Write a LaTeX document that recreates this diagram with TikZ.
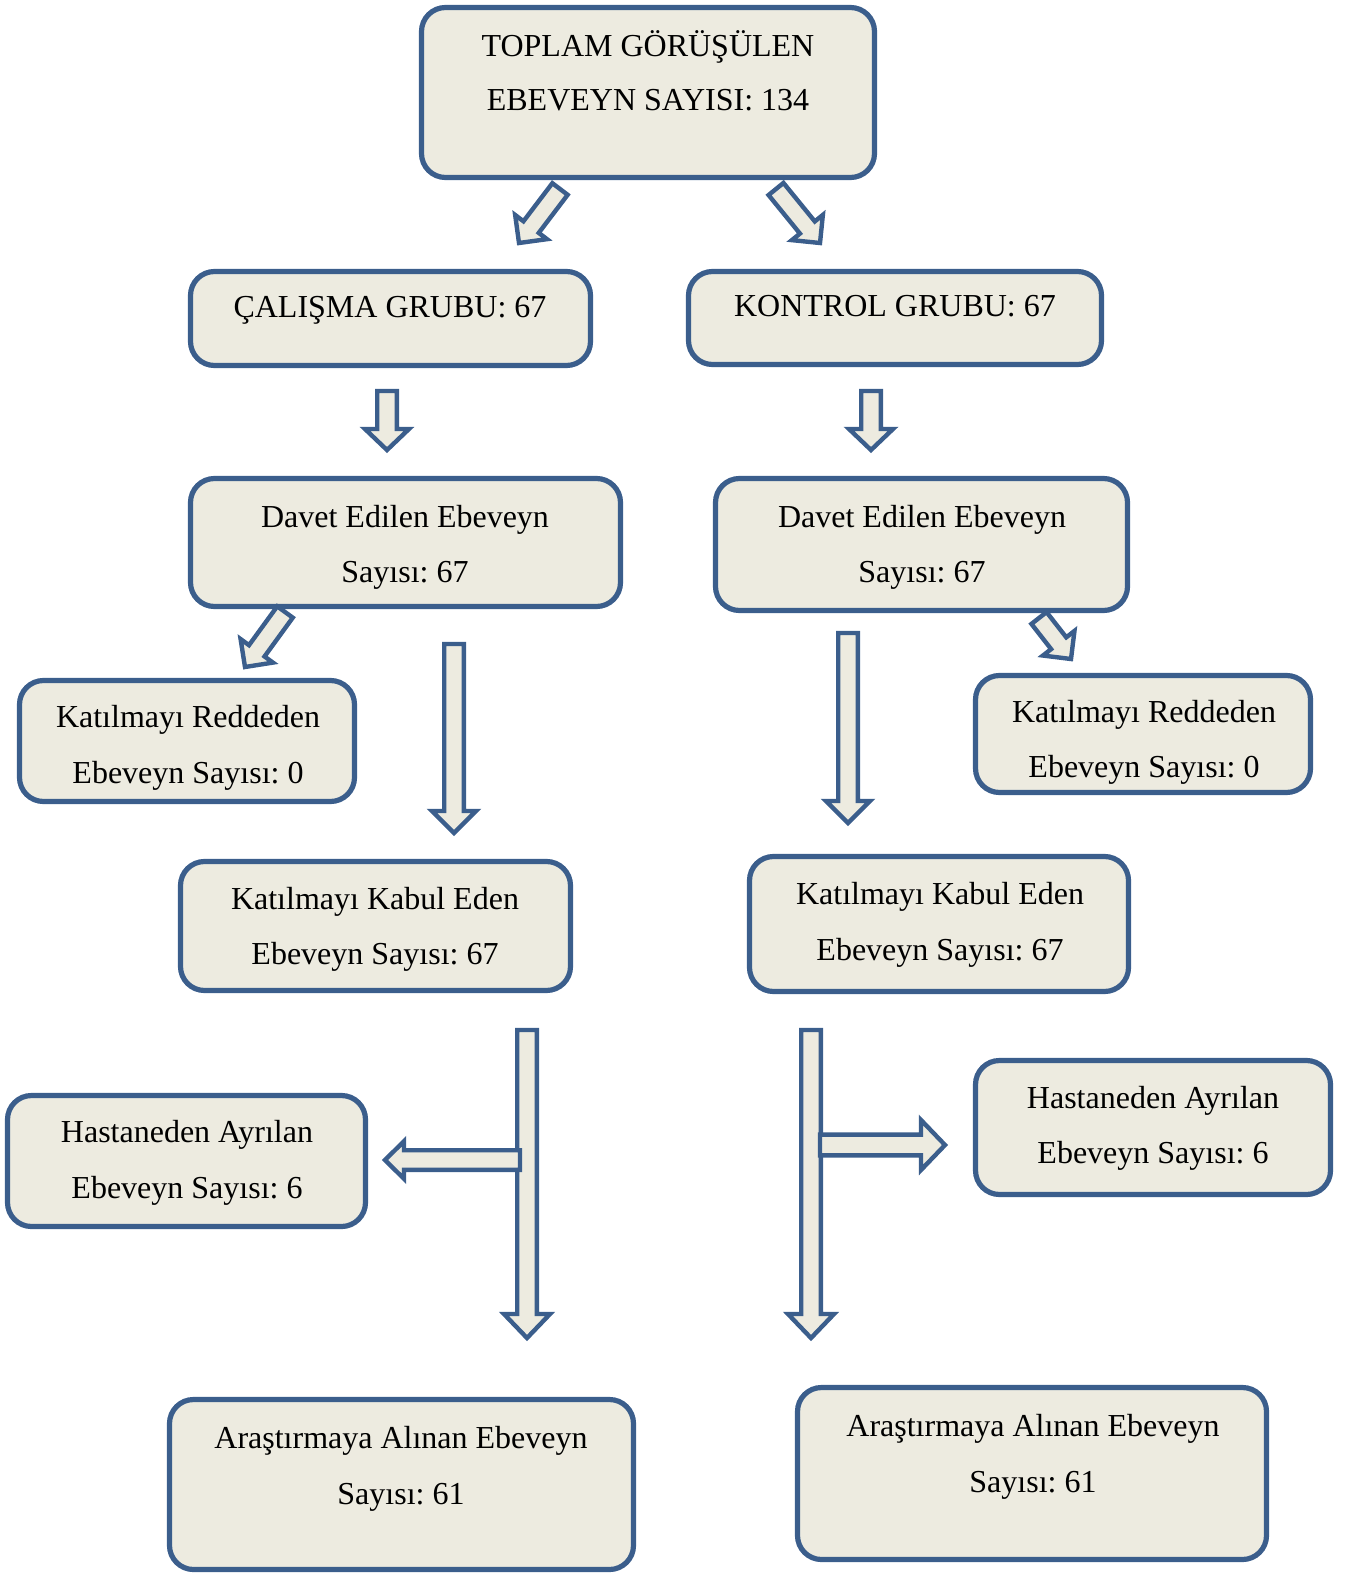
\documentclass[tikz,border=0pt]{standalone}
\usepackage{fontspec}
\setmainfont{Liberation Serif}
\frenchspacing
\usetikzlibrary{calc}
\definecolor{bord}{HTML}{3B5E8C}
\definecolor{fillc}{HTML}{EDEBE0}
\tikzset{
  box/.style={draw=bord, fill=fillc, line width=2.6pt, rounded corners=12pt, inner sep=0pt, outer sep=0pt},
  lbl/.style={font=\fontsize{16}{19}\selectfont, anchor=base, inner sep=0pt},
  barrow/.style={draw=bord, fill=fillc, line width=2.2pt, line join=miter},
}
\newcommand\mkbox[5]{%
  \pgfmathsetmacro\bxw{(#4-#2-5)*0.5}%
  \pgfmathsetmacro\bxh{(#5-#3-5)*0.5}%
  \node[box, minimum width=\bxw pt, minimum height=\bxh pt] (#1) at ({(#2+#4)/2},{(#3+#5)/2}) {};}
% #1 start, #2 end, #3 half shaft, #4 half head, #5 head length
\newcommand\blockarrow[5]{%
  \coordinate (ba-c) at ($(#2)!#5!(#1)$);
  \draw[barrow] ($(#1)!#3!90:(#2)$) -- ($(ba-c)!#3!90:(#2)$) -- ($(ba-c)!#4!90:(#2)$) -- (#2)
    -- ($(ba-c)!#4!-90:(#2)$) -- ($(ba-c)!#3!-90:(#2)$) -- ($(#1)!#3!-90:(#2)$) -- cycle;}
\begin{document}
\begin{tikzpicture}[x=0.5pt,y=-0.5pt]
\useasboundingbox (0,0) rectangle (1352,1573);
% boxes
\mkbox{top}{419}{5}{877}{180}
\mkbox{cal}{188}{269}{593}{368}
\mkbox{kon}{686}{269}{1104}{367}
\mkbox{davL}{188}{476}{623}{609}
\mkbox{davR}{713}{476}{1130}{613}
\mkbox{redL}{17}{678}{357}{804}
\mkbox{redR}{973}{673}{1313}{795}
\mkbox{kabL}{178}{859}{573}{993}
\mkbox{kabR}{747}{854}{1131}{994}
\mkbox{hasL}{5}{1093}{368}{1229}
\mkbox{hasR}{973}{1058}{1333}{1197}
\mkbox{arL}{167}{1397}{636}{1572}
\mkbox{arR}{795}{1385}{1269}{1562}
% texts
\node[lbl] (top1) at (648,57) {TOPLAM GÖRÜŞÜLEN};
\node[lbl] (top2) at (648,111) {EBEVEYN SAYISI: 134};
\node[lbl] (cal1) at (390,317) {ÇALIŞMA GRUBU: 67};
\node[lbl] (kon1) at (895,316) {KONTROL GRUBU: 67};
\node[lbl] (davL1) at (405,527) {Davet Edilen Ebeveyn};
\node[lbl] (davL2) at (405,582) {Sayısı: 67};
\node[lbl] (davR1) at (922,527) {Davet Edilen Ebeveyn};
\node[lbl] (davR2) at (922,582) {Sayısı: 67};
\node[lbl] (redL1) at (188,727) {Katılmayı Reddeden};
\node[lbl] (redL2) at (188,783) {Ebeveyn Sayısı: 0};
\node[lbl] (redR1) at (1144,722) {Katılmayı Reddeden};
\node[lbl] (redR2) at (1144,777) {Ebeveyn Sayısı: 0};
\node[lbl] (kabL1) at (375,909) {Katılmayı Kabul Eden};
\node[lbl] (kabL2) at (375,964) {Ebeveyn Sayısı: 67};
\node[lbl] (kabR1) at (940,904) {Katılmayı Kabul Eden};
\node[lbl] (kabR2) at (940,960) {Ebeveyn Sayısı: 67};
\node[lbl] (hasL1) at (187,1142) {Hastaneden Ayrılan};
\node[lbl] (hasL2) at (187,1198) {Ebeveyn Sayısı: 6};
\node[lbl] (hasR1) at (1153,1108) {Hastaneden Ayrılan};
\node[lbl] (hasR2) at (1153,1163) {Ebeveyn Sayısı: 6};
\node[lbl] (arL1) at (401,1448) {Araştırmaya Alınan Ebeveyn};
\node[lbl] (arL2) at (401,1504) {Sayısı: 61};
\node[lbl] (arR1) at (1033,1436) {Araştırmaya Alınan Ebeveyn};
\node[lbl] (arR2) at (1033,1492) {Sayısı: 61};
% arrow end points
\coordinate (a1s) at (560,189);  \coordinate (a1e) at (519,243);
\coordinate (a2s) at (776,189);  \coordinate (a2e) at (820,243);
\coordinate (a3s) at (387,391);  \coordinate (a3e) at (387,450);
\coordinate (a4s) at (871,391);  \coordinate (a4e) at (871,450);
\coordinate (a5s) at (285,612);  \coordinate (a5e) at (245,667);
\coordinate (a6s) at (1039,618); \coordinate (a6e) at (1071,659);
\coordinate (a7s) at (454,644);  \coordinate (a7e) at (454,833);
\coordinate (a8s) at (848,633);  \coordinate (a8e) at (848,823);
\coordinate (a9s) at (527,1030); \coordinate (a9e) at (527,1338);
\coordinate (a10s) at (811,1030); \coordinate (a10e) at (811,1338);
\coordinate (a11s) at (520,1160); \coordinate (a11e) at (385,1160);
\coordinate (a12s) at (820,1145); \coordinate (a12e) at (945,1145);
% arrows
\blockarrow{a1s}{a1e}{4.8pt}{10pt}{10pt}
\blockarrow{a2s}{a2e}{4.8pt}{10pt}{10pt}
\blockarrow{a3s}{a3e}{4.9pt}{11pt}{10.5pt}
\blockarrow{a4s}{a4e}{4.9pt}{11pt}{10.5pt}
\blockarrow{a5s}{a5e}{4.8pt}{10pt}{10pt}
\blockarrow{a6s}{a6e}{4.8pt}{10pt}{10pt}
\blockarrow{a7s}{a7e}{4.9pt}{11pt}{11pt}
\blockarrow{a8s}{a8e}{4.9pt}{11pt}{11pt}
\blockarrow{a9s}{a9e}{4.9pt}{11.5pt}{12pt}
\blockarrow{a10s}{a10e}{4.9pt}{11.5pt}{12pt}
\blockarrow{a11s}{a11e}{4.9pt}{9.4pt}{9.5pt}
\blockarrow{a12s}{a12e}{5.2pt}{12.5pt}{12pt}
\end{tikzpicture}
\end{document}
